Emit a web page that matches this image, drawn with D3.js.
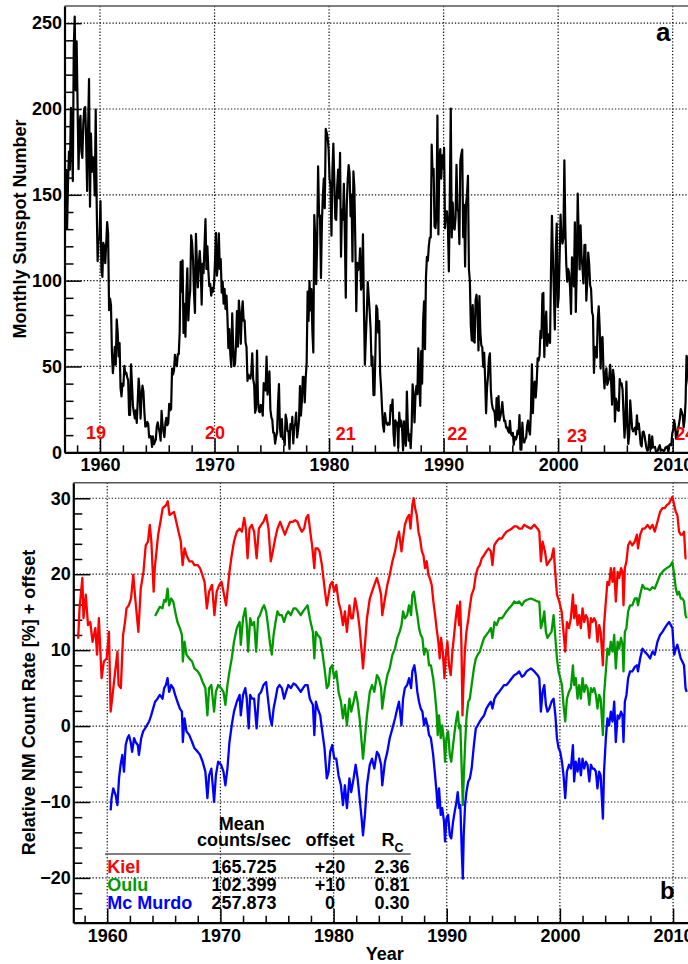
<!DOCTYPE html>
<html>
<head>
<meta charset="utf-8">
<script src="https://cdn.jsdelivr.net/npm/d3@7"></script>
<style>
  body { margin: 0; background: #fff; }
  text { font-family: "Liberation Sans", Arial, Helvetica, sans-serif; font-weight: bold; }
</style>
</head>
<body>
<div id="chart"></div>
<script>
// ---- data ----
// monthly sunspot number, one row per year, starting January 1957
const sunspotStartYear = 1957;
const sunspotMonthly = [
  165.0,130.2,157.4,175.2,164.6,200.7,187.2,158.0,235.8,253.8,210.9,239.4, // 1957
  202.5,164.9,190.7,196.0,175.3,171.5,191.4,200.2,201.2,181.5,152.3,187.6, // 1958
  217.4,143.1,185.7,163.3,172.0,168.7,149.6,199.6,145.2,111.4,124.0,125.0, // 1959
  146.3,106.0,102.2,122.0,119.6,110.2,121.7,134.1,127.2,82.8,89.6,85.6,    // 1960
  57.9,46.1,53.0,61.4,51.0,77.4,70.2,55.9,63.6,37.7,32.6,40.0,             // 1961
  38.7,50.3,45.6,46.4,43.7,42.0,21.8,21.8,51.3,39.5,26.9,23.2,             // 1962
  19.8,24.4,17.1,29.3,43.0,35.9,19.6,33.2,38.8,35.3,23.4,14.9,             // 1963
  15.3,17.7,16.5,8.6,9.5,9.1,3.1,9.3,4.7,6.1,7.4,15.1,                     // 1964
  17.5,14.2,11.7,6.8,24.1,15.9,11.9,8.9,16.8,20.1,15.8,17.0,               // 1965
  28.2,24.4,25.3,48.7,45.3,47.7,56.7,51.2,50.2,57.2,57.2,70.4,             // 1966
  110.9,93.6,111.8,69.5,86.5,67.3,91.5,107.2,76.8,88.2,94.3,126.4,         // 1967
  121.8,111.9,92.2,81.2,127.2,110.3,96.1,109.3,117.2,107.7,86.0,109.8,     // 1968
  104.4,120.5,135.8,106.8,120.0,106.0,96.8,98.0,91.3,95.7,93.5,97.9,       // 1969
  111.5,127.8,102.9,109.5,127.5,106.8,112.5,93.0,99.5,86.6,95.2,83.5,      // 1970
  91.3,79.0,60.7,71.8,57.5,49.8,81.0,61.4,50.2,51.7,63.2,82.2,             // 1971
  61.5,88.4,80.1,63.2,80.5,88.0,76.5,76.8,64.0,61.3,41.6,45.3,             // 1972
  43.4,42.9,46.0,57.7,42.4,39.5,23.1,25.6,59.3,30.7,23.9,23.3,             // 1973
  27.6,26.0,21.3,40.3,39.5,36.0,55.8,33.6,40.2,47.1,25.0,20.5,             // 1974
  18.9,11.5,11.5,5.1,9.0,11.4,28.2,39.7,13.9,9.1,19.4,7.8,                 // 1975
  8.1,4.3,21.9,18.8,12.4,12.2,1.9,16.4,13.5,20.6,5.2,15.3,                 // 1976
  16.4,23.1,8.7,12.9,18.6,38.5,21.4,30.1,44.0,43.8,29.1,43.2,              // 1977
  51.9,93.6,76.5,99.7,82.7,95.1,70.4,58.1,138.2,125.1,97.9,122.7,          // 1978
  166.6,137.5,138.0,101.5,134.4,149.5,159.4,142.2,188.4,186.2,183.3,176.3, // 1979
  159.6,155.0,126.2,164.1,179.9,157.3,136.3,135.4,155.0,164.7,147.9,174.4, // 1980
  114.0,141.3,135.5,156.4,127.5,90.0,143.8,158.7,167.3,162.4,137.5,150.1,  // 1981
  111.2,163.6,153.8,122.0,82.2,110.4,106.1,107.6,118.8,94.7,98.1,127.0,    // 1982
  84.3,51.0,66.5,80.7,99.2,91.1,82.2,71.8,50.3,55.8,33.3,33.4,             // 1983
  57.0,85.4,83.5,69.7,76.4,46.1,37.4,25.5,15.7,12.0,22.8,18.7,             // 1984
  16.5,15.9,17.2,16.2,27.5,24.2,30.7,11.1,3.9,18.6,16.2,17.3,              // 1985
  2.5,23.2,15.1,18.5,13.7,1.1,18.1,7.4,3.8,35.4,15.2,6.8,                  // 1986
  10.4,2.4,14.7,39.6,33.0,17.4,33.0,38.7,33.9,60.6,39.9,27.1,              // 1987
  59.0,40.0,76.2,88.0,60.1,101.8,113.8,111.6,120.1,125.1,125.1,179.2,      // 1988
  161.3,165.1,131.4,130.6,138.5,196.2,126.9,168.9,176.7,159.4,173.0,165.5, // 1989
  177.3,130.5,140.3,140.3,132.2,105.4,149.4,200.3,125.2,145.5,131.4,129.7, // 1990
  136.9,167.5,141.9,140.0,121.3,169.7,173.7,176.3,125.3,144.1,108.2,144.4, // 1991
  150.0,161.1,106.7,99.8,73.8,65.2,85.7,64.5,63.9,88.7,91.8,82.6,          // 1992
  59.3,91.0,69.8,62.2,61.3,49.8,57.9,42.4,22.7,38.0,44.0,54.8,             // 1993
  57.7,35.8,28.6,25.5,24.5,23.0,15.0,31.6,19.0,32.7,18.6,21.1,             // 1994
  24.0,29.3,22.5,18.1,18.5,14.4,14.5,12.5,11.5,18.3,10.8,9.8,              // 1995
  11.3,4.5,9.0,7.4,8.6,12.7,10.6,21.7,1.5,1.5,17.3,7.3,                    // 1996
  5.7,7.6,8.7,15.5,18.5,12.7,10.4,24.4,51.3,22.8,39.0,41.2,                // 1997
  31.9,40.3,54.8,53.4,56.3,70.7,66.6,92.2,92.9,55.5,74.0,81.9,             // 1998
  62.0,66.3,68.8,63.7,106.4,137.7,113.5,93.7,71.5,116.7,133.2,84.6,        // 1999
  90.1,112.9,138.5,125.5,121.6,124.9,170.1,130.5,109.7,99.4,106.8,104.4,   // 2000
  95.6,80.6,113.5,107.7,96.6,134.0,81.8,106.4,150.7,125.5,106.5,132.2,     // 2001
  114.1,107.4,98.4,120.7,120.8,88.3,99.6,116.4,109.6,97.5,95.0,81.6,       // 2002
  79.5,46.2,61.5,60.0,55.2,77.4,85.0,72.7,48.8,65.6,67.2,47.0,             // 2003
  37.2,46.0,48.9,39.3,41.5,43.2,51.0,40.9,27.7,48.0,43.5,17.9,             // 2004
  31.3,29.2,24.5,24.2,42.7,39.3,40.1,36.4,22.1,8.5,18.0,41.2,              // 2005
  15.3,4.9,10.6,30.2,22.3,13.9,12.2,12.9,14.4,10.4,21.5,13.6,              // 2006
  16.8,10.7,4.5,3.4,11.7,12.1,9.7,6.0,2.4,0.9,1.7,10.1,                    // 2007
  3.3,2.1,9.3,2.9,2.9,3.1,0.5,0.5,1.1,2.9,4.1,0.8,                         // 2008
  1.5,1.4,0.7,1.2,2.9,2.6,3.5,0.0,4.3,4.8,4.1,10.8,                        // 2009
  13.2,18.8,15.4,7.9,8.8,13.5,16.1,19.6,25.2,23.5,21.6,14.5,               // 2010
  19.0,29.4,56.2,54.4,41.6,37.0                                            // 2011
];

const cycleNumbers = ["19", "20", "21", "22", "23", "24"];
const cycleLabelYears = [1959.65, 1970.05, 1981.45, 1991.2, 2001.65, 2011.1];
const cycleLabelLevels = [8, 8, 7, 7, 6, 7];

// relative NM count rate [%] + offset, [year, value]
const kiel = [
  [1957.43,11.5],[1957.55,15.5],[1957.8,19.5],[1957.9,14.2],[1958.1,17.3],[1958.3,13.3],[1958.5,13.7],[1958.7,11.1],
  [1958.95,12.9],[1959.1,9.4],[1959.26,14.2],[1959.5,6.3],[1959.7,8.5],[1959.95,8.9],[1960.15,12.4],[1960.3,1.9],
  [1960.5,4.5],[1960.7,7.2],[1960.9,9.8],[1961.0,5.4],[1961.2,5.0],[1961.4,12.0],[1961.57,13.7],[1961.7,15.5],
  [1961.9,15.9],[1962.1,16.8],[1962.3,19.9],[1962.5,16.4],[1962.75,12.4],[1962.96,18.1],[1963.2,20.3],[1963.4,23.8],
  [1963.6,24.3],[1963.76,26.5],[1963.9,24.3],[1964.1,17.7],[1964.2,20.8],[1964.35,23.0],[1964.5,25.2],[1964.7,26.9],
  [1964.9,28.7],[1965.2,29.1],[1965.35,29.6],[1965.5,27.8],[1965.7,28.0],[1965.9,28.2],[1966.1,26.9],[1966.3,25.6],
  [1966.5,24.3],[1966.66,21.2],[1966.83,23.4],[1967.0,22.5],[1967.25,21.7],[1967.5,21.7],[1967.7,21.2],[1968.0,21.2],
  [1968.2,20.8],[1968.4,19.9],[1968.6,19.0],[1968.8,15.5],[1969.0,17.7],[1969.26,18.6],[1969.47,14.6],[1969.67,17.7],
  [1969.9,18.6],[1970.1,19.0],[1970.27,17.7],[1970.5,15.9],[1970.8,20.3],[1971.0,22.5],[1971.2,24.3],[1971.45,25.6],
  [1971.7,26.0],[1971.9,25.6],[1972.1,27.4],[1972.25,26.0],[1972.4,22.1],[1972.57,26.0],[1972.77,26.5],[1972.98,25.6],
  [1973.2,22.1],[1973.4,26.0],[1973.6,26.5],[1973.8,26.9],[1974.04,27.8],[1974.25,26.0],[1974.45,21.7],[1974.63,23.0],
  [1974.84,24.7],[1975.04,26.0],[1975.28,26.9],[1975.5,26.0],[1975.7,25.2],[1975.9,26.0],[1976.16,26.9],[1976.4,26.9],
  [1976.6,27.1],[1976.8,26.9],[1977.05,26.0],[1977.2,25.6],[1977.4,26.0],[1977.58,27.4],[1977.76,27.8],[1977.94,25.6],
  [1978.1,23.8],[1978.3,20.8],[1978.4,23.4],[1978.6,23.4],[1978.76,23.0],[1978.97,21.2],[1979.17,18.6],[1979.4,15.9],
  [1979.56,17.3],[1979.7,18.6],[1979.88,19.0],[1980.06,17.7],[1980.24,18.6],[1980.44,16.4],[1980.65,15.1],[1980.83,13.3],
  [1981.0,15.1],[1981.18,12.4],[1981.4,15.9],[1981.56,14.2],[1981.7,14.2],[1981.9,16.8],[1982.12,15.1],[1982.3,12.9],
  [1982.48,9.8],[1982.6,7.6],[1982.77,10.7],[1982.95,14.2],[1983.2,16.8],[1983.4,17.7],[1983.6,18.6],[1983.83,19.5],
  [1984.0,18.6],[1984.2,17.3],[1984.3,14.6],[1984.54,16.8],[1984.75,18.6],[1984.96,19.9],[1985.2,21.7],[1985.43,23.0],
  [1985.63,24.7],[1985.78,25.6],[1986.0,23.0],[1986.14,24.7],[1986.3,26.5],[1986.5,27.4],[1986.67,27.8],[1986.8,26.0],
  [1986.96,29.1],[1987.08,30.0],[1987.2,28.7],[1987.35,27.8],[1987.5,25.6],[1987.64,24.7],[1987.8,23.0],[1987.94,22.5],
  [1988.08,20.8],[1988.23,21.7],[1988.38,19.9],[1988.5,19.5],[1988.67,18.6],[1988.82,16.4],[1988.97,14.6],[1989.1,12.9],
  [1989.26,11.1],[1989.38,8.9],[1989.5,11.6],[1989.65,9.8],[1989.8,6.3],[1989.9,8.9],[1990.06,11.1],[1990.2,8.0],
  [1990.35,6.7],[1990.5,9.8],[1990.65,12.0],[1990.8,14.2],[1990.94,15.9],[1991.1,13.3],[1991.18,16.4],[1991.3,10.7],
  [1991.39,1.4],[1991.47,5.4],[1991.6,9.8],[1991.74,12.4],[1991.92,14.2],[1992.06,15.9],[1992.2,17.3],[1992.4,18.1],
  [1992.57,19.9],[1992.74,20.8],[1992.92,21.2],[1993.1,22.1],[1993.3,22.5],[1993.5,23.0],[1993.7,23.4],[1993.9,23.0],
  [1994.04,21.2],[1994.2,23.8],[1994.4,24.3],[1994.63,24.7],[1994.87,24.7],[1995.07,25.2],[1995.28,25.6],[1995.5,25.8],
  [1995.75,26.0],[1995.96,26.3],[1996.2,26.3],[1996.4,26.0],[1996.64,26.0],[1996.84,26.5],[1997.05,26.3],[1997.44,26.0],
  [1997.74,26.5],[1998.03,26.0],[1998.18,25.6],[1998.32,21.7],[1998.47,24.3],[1998.68,23.0],[1998.85,21.2],[1999.06,21.7],
  [1999.26,22.1],[1999.44,23.4],[1999.56,20.8],[1999.74,17.3],[1999.94,16.4],[2000.15,15.1],[2000.32,12.4],[2000.47,9.8],
  [2000.62,13.7],[2000.8,12.9],[2000.97,14.2],[2001.15,17.3],[2001.26,14.2],[2001.4,15.9],[2001.56,13.3],[2001.7,14.6],
  [2001.85,12.9],[2002.0,15.5],[2002.15,13.7],[2002.3,14.6],[2002.44,14.2],[2002.6,11.6],[2002.74,14.2],[2002.88,13.7],
  [2003.03,14.2],[2003.18,13.7],[2003.32,11.1],[2003.47,13.3],[2003.6,12.4],[2003.8,8.0],[2003.9,13.3],[2004.06,16.4],
  [2004.2,19.0],[2004.35,18.6],[2004.5,20.8],[2004.65,19.0],[2004.8,20.8],[2004.94,16.4],[2005.1,20.3],[2005.24,19.5],
  [2005.4,20.8],[2005.53,20.3],[2005.62,15.9],[2005.74,20.8],[2005.88,21.7],[2006.03,23.8],[2006.2,24.3],[2006.4,23.8],
  [2006.62,24.3],[2006.8,25.2],[2006.9,23.4],[2007.09,25.2],[2007.3,26.0],[2007.5,26.0],[2007.74,26.5],[2007.97,26.0],
  [2008.18,26.5],[2008.38,25.6],[2008.62,26.9],[2008.85,28.2],[2009.06,28.7],[2009.26,28.7],[2009.44,29.1],[2009.65,29.3],
  [2009.8,29.8],[2009.94,30.2],[2010.1,29.1],[2010.24,28.2],[2010.38,27.8],[2010.53,25.6],[2010.68,25.2],[2010.82,25.2],
  [2010.97,25.6],[2011.1,22.1],[2011.2,22.1]
];

const oulu = [
  [1964.23,14.5],[1964.44,15.1],[1964.65,15.7],[1964.88,15.5],[1965.03,16.6],[1965.18,16.4],[1965.33,18.1],[1965.47,15.9],
  [1965.65,16.8],[1965.83,16.4],[1966.0,15.1],[1966.2,13.7],[1966.42,12.9],[1966.6,12.0],[1966.68,8.5],[1966.83,11.1],
  [1967.0,9.4],[1967.25,8.9],[1967.5,8.5],[1967.7,7.6],[1968.0,7.2],[1968.2,6.7],[1968.43,5.8],[1968.67,5.0],
  [1968.85,1.4],[1969.0,5.0],[1969.2,5.4],[1969.44,1.9],[1969.6,4.5],[1969.8,5.4],[1970.06,5.0],[1970.27,4.5],
  [1970.44,2.8],[1970.62,5.4],[1970.8,7.2],[1971.0,8.9],[1971.2,11.1],[1971.45,12.9],[1971.7,13.7],[1971.8,10.7],
  [1972.0,14.2],[1972.2,15.5],[1972.33,13.3],[1972.45,9.8],[1972.63,14.2],[1972.8,13.3],[1972.98,13.7],[1973.16,9.8],
  [1973.33,14.2],[1973.5,14.6],[1973.7,15.5],[1973.86,15.9],[1974.04,15.1],[1974.2,13.3],[1974.4,10.7],[1974.54,9.4],
  [1974.7,12.0],[1974.87,13.7],[1975.04,15.1],[1975.22,14.6],[1975.43,14.6],[1975.63,13.7],[1975.8,14.6],[1976.0,15.1],
  [1976.22,14.6],[1976.46,15.5],[1976.67,15.5],[1976.87,15.1],[1977.1,14.6],[1977.3,15.1],[1977.5,15.5],[1977.7,15.9],
  [1977.9,14.2],[1978.03,13.3],[1978.17,12.4],[1978.3,8.9],[1978.44,12.4],[1978.6,12.0],[1978.82,11.6],[1979.0,9.8],
  [1979.2,7.6],[1979.4,5.0],[1979.56,5.4],[1979.7,7.6],[1979.88,8.0],[1980.06,6.3],[1980.24,7.2],[1980.44,4.5],
  [1980.65,3.2],[1980.83,1.0],[1981.0,2.8],[1981.18,0.1],[1981.4,3.6],[1981.56,1.9],[1981.77,3.2],[1981.95,4.5],
  [1982.12,3.2],[1982.3,1.0],[1982.48,-2.1],[1982.6,-4.3],[1982.77,-1.6],[1982.95,1.4],[1983.2,4.5],[1983.4,5.4],
  [1983.6,4.5],[1983.83,6.7],[1984.0,6.3],[1984.2,5.0],[1984.3,2.3],[1984.54,5.0],[1984.75,6.7],[1984.96,7.6],
  [1985.2,9.4],[1985.43,10.2],[1985.63,11.6],[1985.84,12.4],[1986.0,13.3],[1986.14,15.1],[1986.3,14.2],[1986.5,14.6],
  [1986.67,15.9],[1986.85,14.6],[1986.96,17.3],[1987.1,17.7],[1987.26,15.9],[1987.4,14.6],[1987.55,12.9],[1987.7,12.0],
  [1987.85,11.6],[1988.0,9.4],[1988.14,10.2],[1988.3,9.8],[1988.44,8.0],[1988.6,8.0],[1988.8,6.3],[1988.94,4.5],
  [1989.1,1.9],[1989.2,-1.2],[1989.32,1.4],[1989.47,-1.6],[1989.6,0.1],[1989.76,-2.1],[1989.85,-4.7],[1989.97,-1.6],
  [1990.12,-0.7],[1990.27,-3.8],[1990.4,-4.7],[1990.56,-2.5],[1990.7,-0.7],[1990.86,1.0],[1990.97,1.9],[1991.1,-0.3],
  [1991.2,0.1],[1991.33,-6.0],[1991.42,-10.4],[1991.5,-6.9],[1991.62,-2.5],[1991.74,1.0],[1991.9,3.2],[1992.04,3.6],
  [1992.2,5.4],[1992.4,7.6],[1992.57,8.9],[1992.74,9.4],[1992.92,9.8],[1993.1,10.7],[1993.3,11.6],[1993.5,12.0],
  [1993.7,12.4],[1993.9,12.9],[1994.04,11.6],[1994.22,13.7],[1994.4,13.3],[1994.63,14.2],[1994.87,14.2],[1995.07,14.6],
  [1995.28,15.1],[1995.5,15.5],[1995.75,15.9],[1995.96,16.4],[1996.2,16.2],[1996.4,16.4],[1996.64,15.9],[1996.84,16.4],
  [1997.05,16.6],[1997.44,16.8],[1997.74,16.6],[1998.03,16.4],[1998.18,16.4],[1998.32,12.9],[1998.47,13.7],[1998.62,15.1],
  [1998.76,12.4],[1998.9,11.6],[1999.06,12.0],[1999.26,12.4],[1999.44,14.6],[1999.6,11.6],[1999.74,8.9],[1999.88,7.2],
  [2000.03,6.3],[2000.18,5.4],[2000.32,2.8],[2000.47,0.6],[2000.62,3.6],[2000.8,4.5],[2000.97,5.0],[2001.15,8.0],
  [2001.26,5.4],[2001.4,6.3],[2001.56,3.6],[2001.7,5.4],[2001.85,3.6],[2002.0,6.3],[2002.15,4.5],[2002.3,5.4],
  [2002.44,5.0],[2002.6,2.8],[2002.74,5.0],[2002.88,4.5],[2003.03,5.0],[2003.18,4.1],[2003.32,2.3],[2003.47,4.1],
  [2003.6,3.6],[2003.8,-1.2],[2003.9,4.1],[2004.06,7.2],[2004.2,10.2],[2004.35,9.4],[2004.5,11.1],[2004.65,9.8],
  [2004.8,12.0],[2004.94,7.6],[2005.1,11.1],[2005.24,10.2],[2005.4,11.6],[2005.53,10.7],[2005.62,7.2],[2005.74,12.4],
  [2005.88,12.9],[2006.03,15.1],[2006.2,15.9],[2006.4,15.9],[2006.62,16.8],[2006.8,16.8],[2006.9,15.9],[2007.09,17.3],
  [2007.3,18.6],[2007.5,18.1],[2007.74,18.1],[2007.97,17.9],[2008.18,18.3],[2008.38,18.1],[2008.62,19.0],[2008.85,19.9],
  [2009.06,20.3],[2009.26,20.6],[2009.44,20.8],[2009.65,21.0],[2009.8,21.2],[2009.94,21.6],[2010.1,19.9],[2010.24,18.1],
  [2010.38,17.3],[2010.53,17.7],[2010.68,16.8],[2010.82,16.8],[2010.97,16.4],[2011.1,14.6],[2011.2,14.2]
];

const mcmurdo = [
  [1960.3,-11.1],[1960.38,-9.5],[1960.53,-8.2],[1960.74,-9.1],[1960.9,-10.4],[1961.04,-6.9],[1961.18,-5.1],[1961.33,-3.8],
  [1961.48,-6.0],[1961.63,-2.5],[1961.78,-1.6],[1961.92,-1.2],[1962.07,-2.1],[1962.2,-3.4],[1962.37,-1.6],[1962.5,-2.1],
  [1962.7,-2.5],[1962.8,-3.8],[1963.0,-1.6],[1963.17,-0.7],[1963.35,-0.3],[1963.5,0.1],[1963.7,0.6],[1963.88,1.4],
  [1964.05,2.3],[1964.23,3.2],[1964.44,3.6],[1964.65,4.1],[1964.88,3.6],[1965.03,5.0],[1965.18,5.4],[1965.33,6.3],
  [1965.47,4.5],[1965.65,5.4],[1965.83,5.0],[1966.0,4.1],[1966.2,3.2],[1966.42,2.3],[1966.6,1.9],[1966.68,-2.1],
  [1966.83,1.0],[1967.0,-0.7],[1967.25,-1.2],[1967.5,-2.1],[1967.7,-2.9],[1968.0,-3.4],[1968.2,-3.8],[1968.43,-4.7],
  [1968.67,-6.0],[1968.85,-9.5],[1969.0,-6.5],[1969.2,-5.6],[1969.44,-10.0],[1969.6,-6.5],[1969.8,-4.7],[1970.06,-5.1],
  [1970.27,-6.0],[1970.44,-7.8],[1970.62,-5.6],[1970.8,-2.1],[1971.0,0.1],[1971.2,1.9],[1971.45,3.2],[1971.7,4.1],
  [1971.8,1.4],[1972.0,4.1],[1972.2,5.0],[1972.33,3.6],[1972.5,-0.3],[1972.63,4.1],[1972.8,3.6],[1972.98,3.6],
  [1973.2,-0.3],[1973.4,4.1],[1973.6,4.5],[1973.8,5.4],[1974.04,5.8],[1974.2,3.6],[1974.4,1.0],[1974.54,0.1],
  [1974.7,2.3],[1974.87,3.6],[1975.04,5.0],[1975.22,5.4],[1975.43,5.0],[1975.63,3.6],[1975.8,4.5],[1976.0,5.4],
  [1976.22,5.0],[1976.46,5.6],[1976.67,5.4],[1976.87,5.0],[1977.1,4.5],[1977.3,5.0],[1977.5,5.4],[1977.7,5.4],
  [1977.9,3.6],[1978.03,3.2],[1978.17,2.8],[1978.3,-1.2],[1978.44,3.2],[1978.6,2.3],[1978.82,1.4],[1979.0,-0.7],
  [1979.2,-2.9],[1979.4,-6.9],[1979.56,-6.0],[1979.7,-3.4],[1979.88,-2.5],[1980.06,-4.3],[1980.24,-4.3],[1980.44,-6.5],
  [1980.65,-7.8],[1980.83,-10.4],[1981.0,-7.8],[1981.18,-10.8],[1981.4,-6.9],[1981.56,-8.7],[1981.77,-6.9],[1981.95,-5.1],
  [1982.12,-6.9],[1982.3,-9.5],[1982.48,-12.2],[1982.6,-14.4],[1982.77,-11.7],[1982.95,-7.8],[1983.2,-5.1],[1983.4,-4.3],
  [1983.6,-5.6],[1983.83,-3.4],[1984.0,-3.8],[1984.2,-5.1],[1984.3,-7.8],[1984.54,-4.7],[1984.75,-3.4],[1984.96,-1.6],
  [1985.2,-0.3],[1985.43,1.0],[1985.63,2.3],[1985.78,3.2],[1986.0,0.1],[1986.14,3.6],[1986.3,5.0],[1986.5,5.4],
  [1986.67,6.3],[1986.85,5.0],[1986.96,7.2],[1987.14,8.0],[1987.26,6.7],[1987.4,4.5],[1987.55,3.2],[1987.7,2.3],
  [1987.85,1.9],[1988.0,0.1],[1988.14,1.0],[1988.3,0.1],[1988.44,-1.2],[1988.6,-1.6],[1988.8,-3.8],[1988.94,-6.0],
  [1989.1,-8.7],[1989.2,-10.8],[1989.32,-8.2],[1989.47,-11.7],[1989.6,-10.8],[1989.76,-12.6],[1989.85,-15.2],[1989.97,-12.2],
  [1990.12,-11.7],[1990.27,-14.4],[1990.4,-14.8],[1990.56,-12.6],[1990.7,-11.3],[1990.86,-10.0],[1990.97,-8.7],[1991.1,-10.8],
  [1991.2,-10.4],[1991.33,-16.6],[1991.42,-20.1],[1991.5,-14.4],[1991.62,-10.4],[1991.74,-8.7],[1991.9,-7.3],[1992.04,-6.9],
  [1992.2,-5.6],[1992.4,-2.5],[1992.57,-0.3],[1992.74,0.1],[1992.92,0.6],[1993.1,1.0],[1993.3,1.4],[1993.5,2.3],
  [1993.7,2.8],[1993.9,3.2],[1994.04,2.3],[1994.22,3.6],[1994.4,4.1],[1994.63,4.5],[1994.87,5.0],[1995.07,5.4],
  [1995.28,5.4],[1995.5,5.8],[1995.75,6.3],[1995.96,6.7],[1996.2,6.9],[1996.4,7.2],[1996.64,6.5],[1996.84,6.7],
  [1997.05,7.2],[1997.44,7.6],[1997.74,7.2],[1998.03,6.7],[1998.18,6.3],[1998.32,1.9],[1998.47,4.5],[1998.62,5.4],
  [1998.76,2.8],[1998.9,1.9],[1999.06,2.3],[1999.26,3.2],[1999.44,3.6],[1999.6,1.4],[1999.74,-1.6],[1999.88,-2.9],
  [2000.03,-3.4],[2000.18,-4.7],[2000.32,-6.5],[2000.47,-9.5],[2000.62,-6.0],[2000.8,-5.1],[2000.97,-5.6],[2001.15,-2.5],
  [2001.26,-7.3],[2001.4,-4.7],[2001.56,-6.0],[2001.7,-4.3],[2001.85,-6.5],[2002.0,-4.3],[2002.15,-5.6],[2002.3,-4.7],
  [2002.44,-5.1],[2002.6,-7.3],[2002.74,-5.1],[2002.88,-5.6],[2003.03,-5.6],[2003.18,-6.0],[2003.32,-8.2],[2003.47,-6.0],
  [2003.6,-6.5],[2003.8,-12.2],[2003.9,-6.0],[2004.06,-1.6],[2004.2,1.0],[2004.35,0.1],[2004.5,1.9],[2004.65,0.6],
  [2004.8,3.2],[2004.94,-2.1],[2005.1,1.4],[2005.24,1.0],[2005.4,1.9],[2005.53,1.4],[2005.62,-2.1],[2005.74,3.2],
  [2005.88,4.1],[2006.03,6.3],[2006.2,7.2],[2006.4,7.2],[2006.62,7.8],[2006.8,8.0],[2006.9,7.2],[2007.09,8.9],
  [2007.3,10.2],[2007.5,9.8],[2007.74,9.4],[2007.97,8.9],[2008.18,9.8],[2008.38,9.4],[2008.62,11.1],[2008.85,12.0],
  [2009.06,12.4],[2009.26,12.9],[2009.44,13.3],[2009.65,13.7],[2009.8,13.3],[2009.94,12.9],[2010.1,9.4],[2010.24,10.2],
  [2010.38,10.7],[2010.53,9.8],[2010.68,8.9],[2010.82,8.5],[2010.97,8.0],[2011.1,5.0],[2011.2,4.5]
];

// table in the lower panel
const stations = ["Kiel", "Oulu", "Mc Murdo"];
const stationColors = ["#ff0000", "#009a00", "#0000ff"];
const meanCounts = ["165.725", "102.399", "257.873"];
const offsets = ["+20", "+10", "0"];
const cutoffRc = ["2.36", "0.81", "0.30"];

// ---- layout ----
const W = 688, H = 964;
const topPanel = {left: 64.5, right: 695.6, top: 6, bottom: 452.3};
const botPanel = {left: 73.3, right: 695.7, top: 482.7, bottom: 922.7};
const fontSize = 18;

const svg = d3.select("#chart").append("svg")
  .attr("width", W).attr("height", H)
  .style("background", "#fff");

const xTop = d3.scaleLinear().domain([1956.9, 2012]).range([topPanel.left, topPanel.right]);
const yTop = d3.scaleLinear().domain([0, 260]).range([topPanel.bottom, topPanel.top]);
const xBot = d3.scaleLinear().domain([1957, 2012]).range([botPanel.left, botPanel.right]);
const yBot = d3.scaleLinear().domain([-25.9, 32.05]).range([botPanel.bottom, botPanel.top]);

const decades = [1960, 1970, 1980, 1990, 2000, 2010];
const yearMinor = d3.range(1958, 2012, 2).filter(d => d % 10 !== 0);

function drawFrame(p, x, y, yMajor, yMinor, yGrid, name) {
  const g = svg.append("g");

  // dotted grid
  g.selectAll(".vgrid").data(decades).enter().append("line")
    .attr("x1", d => x(d)).attr("x2", d => x(d))
    .attr("y1", p.top).attr("y2", p.bottom)
    .attr("stroke", "#111").attr("stroke-width", 1.2)
    .attr("stroke-dasharray", "1.3,1.9");
  g.selectAll(".hgrid").data(yGrid).enter().append("line")
    .attr("x1", p.left).attr("x2", p.right)
    .attr("y1", d => y(d)).attr("y2", d => y(d))
    .attr("stroke", "#111").attr("stroke-width", 1.2)
    .attr("stroke-dasharray", "1.3,1.9");

  // top frame line
  g.append("line")
    .attr("x1", p.left).attr("x2", p.right)
    .attr("y1", p.top).attr("y2", p.top)
    .attr("stroke", "#555").attr("stroke-width", 1.6);

  // left axis: major + minor ticks pointing inwards
  const yAxis = g.append("g").attr("transform", `translate(${p.left},0)`)
    .call(d3.axisLeft(y).tickValues(yMajor).tickSize(-17).tickSizeOuter(0).tickPadding(2.5));
  g.append("g").attr("transform", `translate(${p.left},0)`)
    .call(d3.axisLeft(y).tickValues(yMinor).tickSize(-9).tickSizeOuter(0).tickFormat(""))
    .select(".domain").remove();

  // bottom axis
  const xAxis = g.append("g").attr("transform", `translate(0,${p.bottom})`)
    .call(d3.axisBottom(x).tickValues(decades).tickFormat(d3.format("d"))
      .tickSize(-14).tickSizeOuter(0).tickPadding(6.3));
  g.append("g").attr("transform", `translate(0,${p.bottom})`)
    .call(d3.axisBottom(x).tickValues(yearMinor).tickSize(-7).tickSizeOuter(0).tickFormat(""))
    .select(".domain").remove();

  g.selectAll(".tick line").attr("stroke", "#000").attr("stroke-width", 1.5);
  g.selectAll(".domain").attr("stroke", "#000").attr("stroke-width", 2.2);
  g.selectAll(".tick text")
    .attr("font-size", fontSize)
    .attr("font-family", "'Liberation Sans', Arial, sans-serif")
    .attr("font-weight", "bold").attr("fill", "#000");

  // clip for data
  svg.append("clipPath").attr("id", name)
    .append("rect").attr("x", p.left).attr("y", p.top)
    .attr("width", p.right - p.left).attr("height", p.bottom - p.top);
}

// ---- panel a ----
drawFrame(topPanel, xTop, yTop,
  [0, 50, 100, 150, 200, 250],
  d3.range(10, 260, 10).filter(d => d % 50 !== 0),
  [50, 100, 150, 200, 250], "clipTop");

const sunLine = d3.line()
  .x((d, i) => xTop(sunspotStartYear + (i + 0.5) / 12))
  .y(d => yTop(d));

svg.append("path")
  .datum(sunspotMonthly)
  .attr("clip-path", "url(#clipTop)")
  .attr("d", sunLine)
  .attr("fill", "none").attr("stroke", "#000")
  .attr("stroke-width", 2.2).attr("stroke-linejoin", "round");

svg.selectAll(".cycle").data(cycleNumbers).enter().append("text")
  .attr("x", (d, i) => xTop(cycleLabelYears[i]))
  .attr("y", (d, i) => yTop(cycleLabelLevels[i]))
  .attr("text-anchor", "middle")
  .attr("font-size", fontSize).attr("fill", "#ff0000")
  .text(d => d);

svg.append("text")
  .attr("transform", `translate(25.5,${229}) rotate(-90)`)
  .attr("text-anchor", "middle").attr("font-size", fontSize)
  .text("Monthly Sunspot Number");

svg.append("text").attr("x", 656).attr("y", 40.7)
  .attr("font-size", 26).text("a");

// ---- panel b ----
drawFrame(botPanel, xBot, yBot,
  [-20, -10, 0, 10, 20, 30],
  d3.range(-24, 32, 2).filter(d => d % 10 !== 0),
  [-20, -10, 0, 10, 20, 30], "clipBot");

const nmLine = d3.line().x(d => xBot(d[0])).y(d => yBot(d[1]));
[kiel, oulu, mcmurdo].forEach((series, i) => {
  svg.append("path")
    .datum(series)
    .attr("clip-path", "url(#clipBot)")
    .attr("d", nmLine)
    .attr("fill", "none").attr("stroke", stationColors[i])
    .attr("stroke-width", 2.3).attr("stroke-linejoin", "round");
});

svg.append("text")
  .attr("transform", `translate(35,${702.5}) rotate(-90)`)
  .attr("text-anchor", "middle").attr("font-size", fontSize)
  .text("Relative NM Count Rate [%] + offset");

svg.append("text").attr("x", 384.7).attr("y", 960)
  .attr("text-anchor", "middle").attr("font-size", fontSize).text("Year");

svg.append("text").attr("x", 660).attr("y", 899.3)
  .attr("font-size", 24).text("b");

// table
const table = svg.append("g");
const colMean = 244, colOffset = 330, colRc = 392, colName = 107.3;
table.append("text").attr("x", 241.7).attr("y", 830)
  .attr("text-anchor", "middle").attr("font-size", fontSize).text("Mean");
table.append("text").attr("x", colMean).attr("y", 845.7)
  .attr("text-anchor", "middle").attr("font-size", fontSize).text("counts/sec");
table.append("text").attr("x", colOffset).attr("y", 845.7)
  .attr("text-anchor", "middle").attr("font-size", fontSize).text("offset");
const rc = table.append("text").attr("x", 381.5).attr("y", 845.7)
  .attr("font-size", fontSize).text("R");
rc.append("tspan").attr("dy", 6).attr("font-size", 12.5).text("C");
table.append("line").attr("x1", 105).attr("x2", 410.7)
  .attr("y1", 854).attr("y2", 854)
  .attr("stroke", "#555").attr("stroke-width", 1.6);

const rowBase = [872.7, 891.3, 909.3];
stations.forEach((s, i) => {
  const row = table.append("g").attr("font-size", fontSize);
  row.append("text").attr("x", colName).attr("y", rowBase[i])
    .attr("fill", stationColors[i]).text(s);
  row.append("text").attr("x", colMean).attr("y", rowBase[i])
    .attr("text-anchor", "middle").text(meanCounts[i]);
  row.append("text").attr("x", colOffset).attr("y", rowBase[i])
    .attr("text-anchor", "middle").text(offsets[i]);
  row.append("text").attr("x", colRc).attr("y", rowBase[i])
    .attr("text-anchor", "middle").text(cutoffRc[i]);
});
</script>
</body>
</html>
